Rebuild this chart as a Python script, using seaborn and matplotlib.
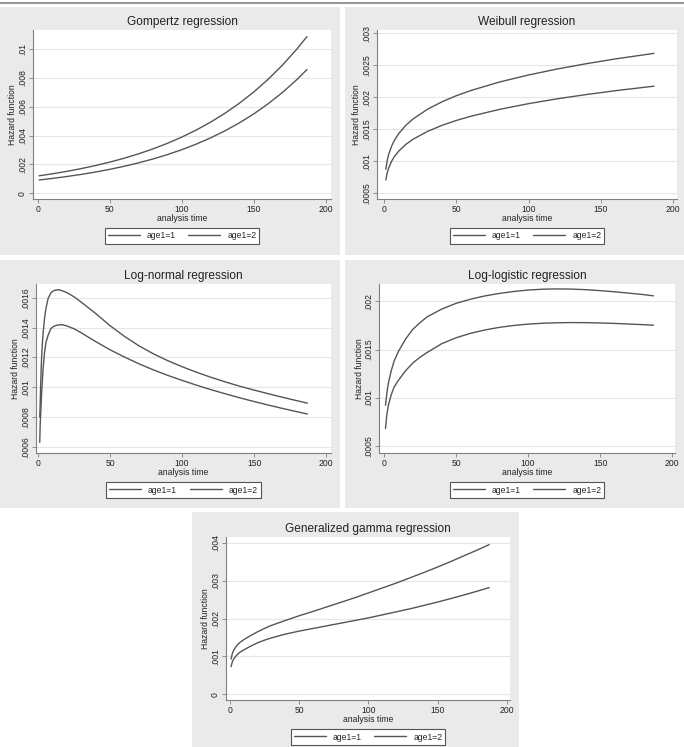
import pandas as pd
import seaborn as sns
import matplotlib.pyplot as plt
from matplotlib.patches import Rectangle
from matplotlib.lines import Line2D

gomp_t = [1, 10, 20, 30, 40, 50, 60, 70, 80, 90, 100, 110, 120, 130, 140, 150, 160, 170, 180, 187]
gomp_1 = [0.00121, 0.001346, 0.001514, 0.001704, 0.001917, 0.002157, 0.002427, 0.002731, 0.003073, 0.003458,
          0.003891, 0.004378, 0.004926, 0.005543, 0.006237, 0.007018, 0.007897, 0.008886, 0.009998, 0.010859]
gomp_2 = [0.00092, 0.001025, 0.001156, 0.001303, 0.001469, 0.001656, 0.001868, 0.002106, 0.002374, 0.002677,
          0.003018, 0.003403, 0.003837, 0.004326, 0.004877, 0.005499, 0.006201, 0.006991, 0.007883, 0.008573]

weib_t = [1, 2, 3, 5, 7, 10, 15, 20, 30, 40, 50, 60, 80, 100, 120, 140, 160, 187]
weib_1 = [0.000875, 0.001015, 0.001108, 0.001236, 0.001328, 0.001434, 0.001565, 0.001663, 0.001815, 0.001930,
          0.002026, 0.002106, 0.002240, 0.002349, 0.002443, 0.002525, 0.002599, 0.002687]
weib_2 = [0.000708, 0.000821, 0.000896, 0.001000, 0.001075, 0.001160, 0.001266, 0.001346, 0.001468, 0.001562,
          0.001639, 0.001704, 0.001812, 0.001901, 0.001977, 0.002043, 0.002103, 0.002174]

lnorm_t = [1.2, 1.5, 2, 2.5, 3, 3.5, 4.5, 5.5, 7, 9, 11, 14, 17, 20, 25, 30, 40, 50, 60, 70, 80, 90,
           100, 110, 120, 130, 140, 150, 160, 170, 180, 187]
lnorm_1 = [0.00080, 0.00089, 0.00107, 0.00120, 0.00129, 0.00136, 0.00146, 0.00153, 0.001597, 0.001635, 0.00165,
           0.001656, 0.001648, 0.001636, 0.001608, 0.001572, 0.001496, 0.001414, 0.001342, 0.001279, 0.001225,
           0.001179, 0.001138, 0.001101, 0.001067, 0.001036, 0.001007, 0.000981, 0.000956, 0.000932, 0.000909,
           0.000893]
lnorm_2 = [0.00063, 0.00075, 0.00085, 0.00096, 0.00104, 0.00112, 0.00123, 0.00130, 0.00135, 0.001395, 0.00141,
           0.001419, 0.00142, 0.001412, 0.001393, 0.001366, 0.001307, 0.001252, 0.001203, 0.001158, 0.001117,
           0.00108, 0.001046, 0.001014, 0.000984, 0.000956, 0.000929, 0.000904, 0.00088, 0.000857, 0.000835,
           0.00082]

llog_t = [1, 2, 3, 5, 7, 10, 15, 20, 25, 30, 40, 50, 60, 70, 80, 90, 100, 110, 120, 130, 140, 150, 160, 170, 180, 187]
llog_1 = [0.00092, 0.00105, 0.00115, 0.00128, 0.00138, 0.00148, 0.00161, 0.00171, 0.00178, 0.00184, 0.00192, 0.00198,
          0.002023, 0.002057, 0.002083, 0.002103, 0.002118, 0.002127, 0.00213, 0.002128, 0.002122, 0.002112,
          0.0021, 0.002086, 0.002071, 0.002058]
llog_2 = [0.00068, 0.00083, 0.00092, 0.00103, 0.00111, 0.00118, 0.00128, 0.00136, 0.00142, 0.00147, 0.00156, 0.001622,
          0.001668, 0.001703, 0.00173, 0.00175, 0.001764, 0.001773, 0.001778, 0.00178, 0.001779, 0.001776,
          0.001771, 0.001765, 0.001758, 0.001753]

ggam_t = [1, 2, 3, 5, 7, 10, 15, 20, 25, 30, 40, 50, 60, 70, 80, 90, 100, 110, 120, 130, 140, 150, 160, 170, 180, 187]
ggam_1 = [0.00093, 0.00108, 0.00117, 0.00128, 0.00136, 0.00144, 0.00155, 0.00165, 0.00174, 0.00182, 0.00195, 0.002075,
          0.00219, 0.00231, 0.00243, 0.00255, 0.00268, 0.00281, 0.00294, 0.00308, 0.00322, 0.003367, 0.00352,
          0.00368, 0.00384, 0.003956]
ggam_2 = [0.00073, 0.00086, 0.00094, 0.00103, 0.0011, 0.00117, 0.00127, 0.00136, 0.00143, 0.00149, 0.00159, 0.00167,
          0.00174, 0.00181, 0.00188, 0.00195, 0.00202, 0.0021, 0.00218, 0.00226, 0.00235, 0.00244, 0.002537,
          0.002638, 0.002744, 0.00282]

gruppen = ['age1=1', 'age1=2']
x_ticks = [0, 50, 100, 150, 200]

sns.set_theme(style="white")
plt.rcParams['font.family'] = ['Liberation Sans', 'DejaVu Sans']

W, H = 684, 747
fig = plt.figure(figsize=(W / 100, H / 100), dpi=100)
fig.patch.set_facecolor('white')

# graue Linie oben
fig.add_artist(Line2D([0, 1], [1 - 3 / H, 1 - 3 / H], transform=fig.transFigure, color='#999999', lw=1.5))

LINE = '#555555'
FS = 6.2


def panel(box, rect, title, t, h1, h2, xlim, ylim, yticks, ylabels):
    x0, y0, w, h = box
    fig.add_artist(Rectangle((x0 / W, 1 - (y0 + h) / H), w / W, h / H, transform=fig.transFigure,
                             facecolor='#eaeaea', edgecolor='none', zorder=0))
    l, tp, r, b = rect
    ax = fig.add_axes([l / W, 1 - b / H, (r - l) / W, (b - tp) / H])
    ax.set_facecolor('white')

    df = pd.DataFrame({'t': t + t, 'h': h1 + h2,
                       'Gruppe': [gruppen[0]] * len(t) + [gruppen[1]] * len(t)})
    sns.lineplot(data=df, x='t', y='h', hue='Gruppe', palette=[LINE, LINE], ax=ax,
                 legend=False, linewidth=1.0)

    ax.set_xlim(xlim)
    ax.set_ylim(ylim)
    ax.set_xticks(x_ticks)
    ax.set_xticklabels([str(v) for v in x_ticks])
    ax.set_yticks(yticks)
    ax.set_yticklabels(ylabels)
    ax.yaxis.grid(True, color='#e6e6e6', lw=0.8)
    ax.xaxis.grid(False)
    for s in ['top', 'right']:
        ax.spines[s].set_visible(False)
    for s in ['left', 'bottom']:
        ax.spines[s].set_color('#808080')
        ax.spines[s].set_linewidth(0.8)
    ax.tick_params(direction='out', length=3, width=0.6, color='#808080', labelsize=FS,
                   labelcolor='#222222', pad=1.5, bottom=True, left=True)
    ax.tick_params(axis='x', pad=1.2)
    plt.setp(ax.get_yticklabels(), rotation=90, va='center')
    ax.set_xlabel('')
    ax.set_ylabel('')

    cx = (l + r) / 2
    fig.text(cx / W, 1 - (tp - 8) / H, title, ha='center', va='center', fontsize=8.6, color='#222222')
    fig.text(cx / W, 1 - (b + 19.5) / H, 'analysis time', ha='center', va='center', fontsize=FS, color='#222222')
    fig.text((l - 20) / W, 1 - (tp + b) / 2 / H, 'Hazard function', ha='center', va='center',
             rotation=90, fontsize=FS, color='#222222')

    handles = [Line2D([], [], color=LINE, lw=1.0) for _ in gruppen]
    ax.legend(handles, gruppen, loc='center', bbox_to_anchor=(cx / W, 1 - (b + 37) / H),
              bbox_transform=fig.transFigure, ncol=2, frameon=True, fancybox=False,
              edgecolor='#555555', facecolor='white', framealpha=1, fontsize=FS,
              handlelength=3.7, handletextpad=0.8, columnspacing=1.5, borderpad=0.35)
    ax.get_legend().get_frame().set_linewidth(0.8)
    return ax


panel((0, 7, 340, 248), (33, 30, 331, 199), 'Gompertz regression', gomp_t, gomp_1, gomp_2,
      (-3.3, 203.7), (-0.0004, 0.01132),
      [0, 0.002, 0.004, 0.006, 0.008, 0.01], ['0', '.002', '.004', '.006', '.008', '.01'])

panel((345, 7, 339, 248), (377, 30, 677, 199), 'Weibull regression', weib_t, weib_1, weib_2,
      (-5.1, 203), (0.000411, 0.003052),
      [0.0005, 0.001, 0.0015, 0.002, 0.0025, 0.003], ['.0005', '.001', '.0015', '.002', '.0025', '.003'])

panel((0, 260, 340, 248), (36, 284, 331, 453), 'Log-normal regression', lnorm_t, lnorm_1, lnorm_2,
      (-1.4, 203.4), (0.000558, 0.001694),
      [0.0006, 0.0008, 0.001, 0.0012, 0.0014, 0.0016], ['.0006', '.0008', '.001', '.0012', '.0014', '.0016'])

panel((345, 260, 339, 248), (379, 284, 675, 453), 'Log-logistic regression', llog_t, llog_1, llog_2,
      (-3.5, 202), (0.000424, 0.002181),
      [0.0005, 0.001, 0.0015, 0.002], ['.0005', '.001', '.0015', '.002'])

panel((192, 512, 327, 235), (226, 537, 510, 700), 'Generalized gamma regression', ggam_t, ggam_1, ggam_2,
      (-2.6, 202), (-0.00015, 0.004158),
      [0, 0.001, 0.002, 0.003, 0.004], ['0', '.001', '.002', '.003', '.004'])

fig.savefig('out.png', dpi=100)
